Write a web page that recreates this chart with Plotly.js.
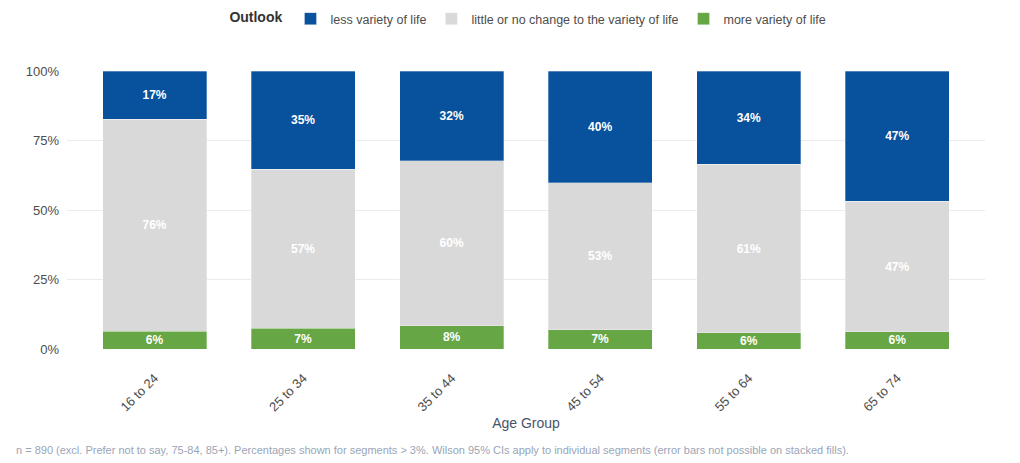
<!DOCTYPE html>
<html>
<head>
<meta charset="utf-8">
<script src="https://cdn.plot.ly/plotly-3.0.1.min.js"></script>
<style>
  html, body { margin: 0; padding: 0; background: #ffffff; }
  #chart { width: 1020px; height: 463px; }
</style>
</head>
<body>
<div id="chart"></div>
<script>
// age groups along the x axis
const ageGroups = ['16 to 24', '25 to 34', '35 to 44', '45 to 54', '55 to 64', '65 to 74']

// share of respondents per outlook, fraction of each age group
const moreVariety   = [0.064, 0.074, 0.083, 0.070, 0.058, 0.062]
const littleChange  = [0.763, 0.573, 0.595, 0.528, 0.606, 0.469]
const lessVariety   = [0.173, 0.353, 0.322, 0.402, 0.336, 0.469]

const yTicks = [0, 0.25, 0.5, 0.75, 1]
const yTickText = ['0%', '25%', '50%', '75%', '100%']

const fontFam = 'Liberation Sans, Arial, sans-serif'

function pctText(arr) {
    // only label segments above 3%
    return arr.map(v => (v > 0.03 ? Math.round(v * 100) + '%' : ''))
}

function segment(name, values, color) {
    return {
        type: 'bar',
        name: name,
        x: ageGroups,
        y: values,
        text: pctText(values),
        textposition: 'inside',
        insidetextanchor: 'middle',
        textangle: 0,
        textfont: {family: fontFam, size: 12, color: '#ffffff', weight: 'bold'},
        marker: {color: color, line: {color: 'rgba(255,255,255,0.6)', width: 0.5}},
        hoverinfo: 'name+y',
    }
}

const traces = [
    segment('more variety of life', moreVariety, '#66a644'),
    segment('little or no change to the variety of life', littleChange, '#d9d9d9'),
    segment('less variety of life', lessVariety, '#08519c'),
]

const layout = {
    width: 1020,
    height: 463,
    barmode: 'stack',
    bargap: 0.3,
    paper_bgcolor: '#ffffff',
    plot_bgcolor: '#ffffff',
    font: {family: fontFam, color: '#4d4d4d', size: 13},
    margin: {l: 67, r: 35, t: 71, b: 114, autoexpand: false},
    uniformtext: {minsize: 12, mode: 'show'},
    showlegend: true,
    legend: {
        orientation: 'h',
        traceorder: 'reversed',
        x: 0.519, xanchor: 'center', xref: 'container',
        y: 1 - 19 / 463, yanchor: 'middle', yref: 'container',
        title: {text: '<b>Outlook</b>', font: {size: 14, color: '#333333'}},
        font: {size: 12.5, color: '#4d4d4d'},
        itemwidth: 30,
        tracegroupgap: 0,
    },
    xaxis: {
        type: 'category',
        range: [-0.59, 5.59],
        tickangle: -45,
        tickfont: {size: 13, color: '#4d4d4d'},
        ticks: '',
        ticklabelstandoff: 18,
        showgrid: false,
        zeroline: false,
        automargin: false,
        title: {text: 'Age Group', font: {size: 14, color: '#4a5468'}, standoff: 4},
    },
    yaxis: {
        range: [0, 1],
        tickvals: yTicks,
        ticktext: yTickText,
        tickfont: {size: 13, color: '#4d4d4d'},
        ticks: '',
        ticklabelstandoff: 7,
        showgrid: true,
        gridcolor: '#ebebeb',
        gridwidth: 1,
        zeroline: false,
        automargin: false,
        fixedrange: true,
    },
    annotations: [{
        text: 'n = 890 (excl. Prefer not to say, 75-84, 85+). Percentages shown for segments > 3%. Wilson 95% CIs apply to individual segments (error bars not possible on stacked fills).',
        xref: 'paper', yref: 'paper',
        x: -0.058, xanchor: 'left',
        y: -0.365, yanchor: 'middle',
        showarrow: false,
        font: {size: 11, color: '#9aa5b8'},
    }],
}

Plotly.newPlot('chart', traces, layout, {displayModeBar: false, staticPlot: true})
</script>
</body>
</html>
